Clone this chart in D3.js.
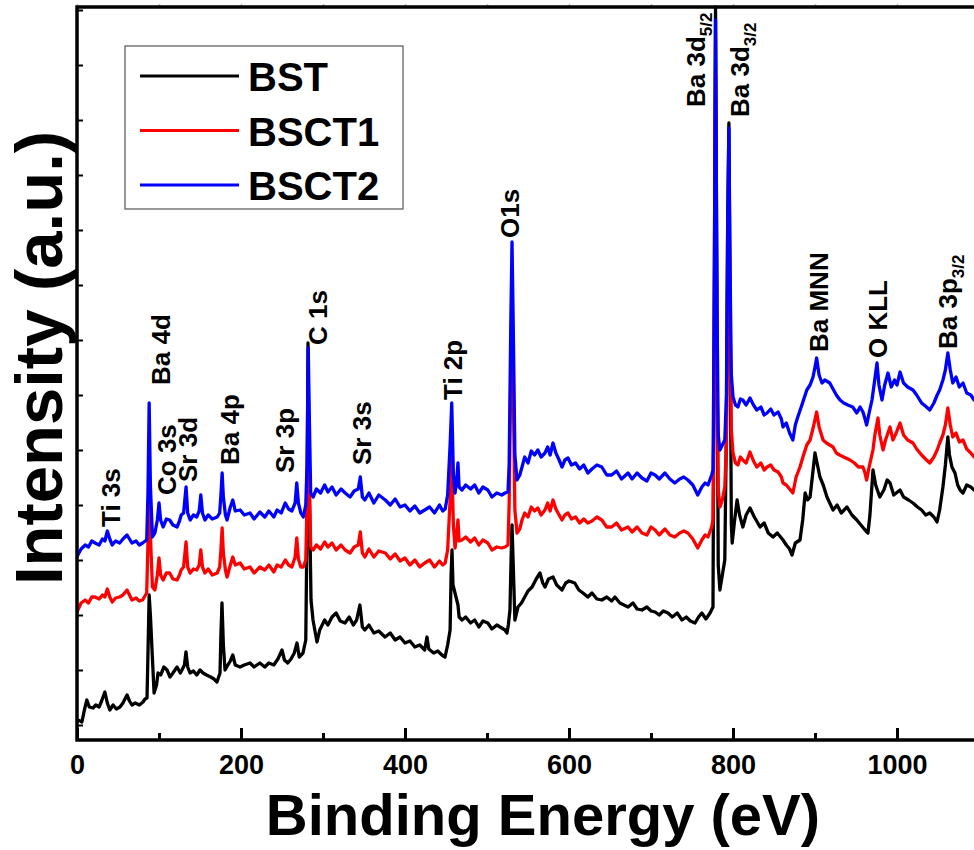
<!DOCTYPE html>
<html>
<head>
<meta charset="utf-8">
<script src="https://cdn.jsdelivr.net/npm/d3@7/dist/d3.min.js"></script>
<style>
  html, body { margin: 0; padding: 0; background: #fff; }
  svg text { font-family: "Liberation Sans", Arial, sans-serif; font-weight: bold; }
</style>
</head>
<body>
<div id="chart"></div>
<script>
// ── data: [binding energy (eV), intensity (a.u.)] ──
const bst = [
  [0,3],[1,5],[4,4],[6,3],[9,15],[12,25],[15,18],[19.5,17],[23,20],[27,18],[30,24],[34,33],[37,22],[40,15],[44,20],[48,16],[52.4,18],[56,22],[61,30],[64,24],[67,20],[71,22],[76,20],[80.5,23],[83,26],[85.4,27],[86.5,70],[88,130],[89.5,110],[91.5,75],[94,32],[97,40],[98.8,52],[102,50],[106,58],[109.8,55],[113.4,48],[117,52],[122,58],[126,52],[128,55],[131,60],[132.9,73],[135,58],[137.8,52],[142,54],[146,50],[150,55],[153.7,52],[158,50],[163,48],[167,46],[170.7,43],[174.4,52],[175.5,90],[176.8,122],[178.5,80],[180.5,55],[184,60],[187,64],[190,70],[193,60],[198.8,58],[204,60],[211,62],[216,58],[223,62],[229,58],[234,62],[240,60],[245,66],[250,75],[253,65],[257,62],[261,66],[265,72],[268.3,82],[271,68],[275.6,72],[279,85],[280.5,200],[281.7,382],[283,250],[285.4,125],[287.8,105],[290,95],[292.7,83],[296,95],[302,105],[306,100],[311,108],[316,112],[321,104],[326.8,102],[332,108],[337,100],[341,105],[345,120],[348,98],[351,95],[356,100],[362,92],[368,94],[375.6,88],[382,92],[388,85],[394,88],[400,82],[406,84],[412,78],[418,80],[424,75],[426.8,88],[429,76],[435,72],[440,74],[445,70],[448.8,68],[452,80],[455,95],[456.2,150],[457.3,175],[458.5,140],[461,132],[464.6,120],[466,108],[469.5,105],[474,108],[480,102],[485,105],[490,98],[495,104],[501,102],[506,96],[512,100],[518,97],[522,95],[524.4,92],[526,100],[528,115],[529.5,170],[530.5,200],[532,160],[534,105],[537.8,118],[542,122],[546,128],[550,134],[555,138],[560,146],[564.6,152],[568,142],[570.7,138],[575,146],[580.5,148],[585,140],[591.5,135],[596,142],[600,144],[607,142],[612,135],[617,132],[623,128],[628,132],[634,126],[640,125],[646,128],[652,124],[656,128],[662,122],[667,120],[672,118],[678,122],[683,116],[689,115],[695,118],[700,114],[705,113],[710,110],[715,114],[720.7,112],[726,108],[732,112],[737.8,105],[743,108],[748,104],[753.7,102],[758,108],[762,112],[767,106],[772,112],[775.6,118],[777,400],[778.7,718],[780.5,400],[782,160],[784,135],[787,150],[790,165],[792,300],[793.5,500],[795,602],[796.5,400],[798,200],[799,182],[802,205],[805,225],[808,210],[812,198],[816,210],[820.7,217],[826,208],[833,198],[838,202],[843,192],[848.8,188],[854,192],[861,185],[865,180],[869,176],[872,170],[876,182],[881.7,185],[885,205],[888,232],[891,225],[894,228],[897,250],[900,272],[903,260],[906,248],[910,240],[914.6,228],[918,222],[922,215],[927,220],[932,212],[939,218],[945,210],[951,205],[956,200],[960,196],[964.6,192],[967,210],[970.7,255],[974,240],[979,228],[984,235],[988,245],[991.5,242],[996,230],[1003.7,235],[1008,228],[1014,225],[1019.5,222],[1025,218],[1030,215],[1035,210],[1040,212],[1045,208],[1048.8,203],[1052,215],[1056,238],[1059,260],[1062,288],[1064,270],[1067,258],[1070.7,252],[1074,240],[1077,235],[1080.5,232],[1085,240],[1090,238],[1094,235],[1100,238]
];
const bsct1 = [
  [0,113],[1,115],[5,122],[10,125],[14,122],[18,128],[22,128],[27,126],[31,130],[34,128],[37,136],[40,128],[43,123],[47,127],[52,128],[56,130],[61,135],[64,130],[67,125],[72,127],[76,124],[80,125],[85,132],[86.5,180],[88,267],[89.5,190],[92,138],[95,135],[98,150],[100,167],[102,150],[105,145],[109,152],[113,152],[117,146],[122,145],[125,150],[127,155],[130,158],[133,183],[135,158],[138,152],[142,156],[146,155],[149,160],[151,175],[153,158],[156,152],[160,156],[165,150],[171,152],[174,158],[175.5,175],[177,197],[178.5,172],[181,155],[183,148],[187,160],[190,168],[193,160],[199,162],[204,156],[211,158],[216,152],[223,158],[229,155],[234,160],[240,153],[244,160],[249,158],[254,165],[258,160],[262,158],[266,168],[268,187],[270,166],[273,158],[276,158],[279,165],[280.5,220],[282,322],[283.5,240],[285,178],[288,175],[292,180],[297,176],[302,183],[306,178],[311,182],[316,175],[322,180],[327,175],[333,172],[338,178],[343,180],[345.5,193],[348,172],[351,168],[356,176],[362,168],[368,174],[376,172],[382,166],[388,171],[394,164],[400,167],[406,160],[412,165],[418,158],[424,162],[430,165],[436,158],[442,164],[446,160],[449,162],[452,175],[455,225],[457,267],[459,200],[461,177],[463,190],[464.6,205],[466,184],[469.5,185],[474,188],[480,183],[485,187],[490,180],[495,185],[501,182],[506,175],[512,178],[518,177],[522,178],[525.6,180],[527,220],[529,350],[530.5,428],[532,340],[534,215],[536.6,192],[540,196],[542.7,205],[546,212],[550,208],[554,218],[558,214],[562,217],[566,210],[570.7,215],[574,222],[577,214],[580.5,225],[584,216],[588,210],[591.5,205],[595,210],[598.8,212],[603,206],[608,208],[613,202],[618,206],[623,202],[628,204],[634,208],[640,205],[646,198],[652,198],[658,202],[664,195],[672,198],[677,193],[683,198],[689,192],[695,190],[700,198],[705,195],[710,190],[717,196],[723,190],[729,188],[735,192],[740,194],[745,192],[751,186],[757,177],[762,185],[766,190],[769.5,188],[774,198],[775.6,205],[777,350],[778.7,650],[780.5,360],[782,235],[784,218],[787,225],[790,238],[792,280],[793.5,450],[795,542],[796.5,400],[798,295],[800,272],[803,262],[806,260],[809,268],[812,265],[816,262],[820.7,273],[825,264],[829,258],[834,262],[838,255],[841.5,258],[846,260],[850,255],[855,253],[859,248],[861,242],[865,240],[869,236],[873,232],[877,248],[881.7,258],[886,270],[890,280],[894,285],[898,298],[902,313],[905,298],[909.8,285],[914,282],[922,278],[926,272],[930,270],[935,268],[942.7,265],[948,262],[953,258],[958.5,258],[961,252],[963,245],[966,258],[970.7,275],[973,290],[976.8,307],[979,290],[983,275],[986,285],[991.5,298],[995,285],[999,292],[1003.7,302],[1008,290],[1013,285],[1019.5,282],[1024,276],[1030,270],[1036,265],[1040,262],[1045,268],[1049,275],[1052,282],[1056,290],[1059,300],[1062,317],[1065,300],[1068,288],[1072,292],[1076,283],[1080.5,285],[1085,276],[1090,272],[1094,268],[1100,270]
];
const bsct2 = [
  [0,168],[1,170],[5,176],[10,180],[14,178],[18,184],[22,182],[27,180],[31,186],[34,184],[37,194],[40,186],[43,180],[47,184],[52,182],[56,186],[61,190],[64,186],[67,182],[72,184],[76,180],[80,182],[85,185],[86.5,230],[88,322],[89.5,240],[92,188],[95,192],[98,205],[100,222],[102,205],[105,198],[109,206],[113,205],[117,200],[122,198],[125,204],[127,210],[130,212],[133,238],[135,212],[138,205],[142,210],[146,208],[149,214],[151,230],[153,212],[156,205],[160,210],[165,206],[171,208],[174,212],[175.5,230],[177,252],[178.5,228],[181,210],[183,205],[187,218],[190,225],[193,214],[199,215],[204,210],[211,212],[216,206],[223,213],[229,208],[234,214],[240,208],[244,215],[249,212],[254,222],[258,216],[262,214],[266,222],[268,242],[270,222],[273,212],[276,208],[279,220],[280.5,260],[282,377],[283.5,300],[285,232],[288,228],[292,236],[297,232],[302,240],[306,233],[311,238],[316,230],[322,236],[327,232],[333,228],[338,234],[343,236],[345.5,248],[348,228],[351,225],[356,232],[362,222],[368,230],[376,225],[382,220],[388,226],[394,218],[400,220],[406,214],[412,219],[418,212],[424,215],[430,218],[436,212],[442,220],[446,214],[449,216],[452,230],[455,280],[457,322],[459,250],[461,232],[463,245],[464.6,262],[466,238],[469.5,235],[474,240],[480,236],[485,240],[490,232],[495,238],[501,235],[506,228],[512,232],[518,230],[522,232],[525.6,233],[527,260],[529,400],[530.5,483],[532,400],[534,270],[536.6,245],[540,250],[542.7,258],[546,268],[550,262],[554,274],[558,270],[562,275],[566,268],[570.7,272],[574,278],[577,270],[580.5,282],[584,272],[588,265],[591.5,258],[595,265],[598.8,267],[603,260],[608,262],[613,256],[618,260],[623,252],[628,256],[634,260],[640,258],[646,250],[652,250],[658,254],[664,246],[672,252],[677,246],[683,252],[689,247],[695,244],[700,252],[705,250],[710,246],[717,252],[723,246],[729,242],[735,246],[740,248],[745,245],[751,240],[757,230],[762,238],[766,242],[769.5,240],[774,250],[775.6,255],[777,400],[778.7,705],[780.5,420],[782,290],[784,275],[787,280],[790,285],[792,330],[793.5,500],[795,597],[796.5,450],[798,350],[800,328],[803,320],[806,318],[809,326],[812,325],[816,320],[820.7,327],[825,320],[829,315],[834,318],[838,310],[841.5,312],[846,316],[850,310],[855,313],[859,306],[861,298],[865,302],[869,292],[873,285],[876,300],[879,308],[884,320],[890,335],[894,340],[897.6,348],[900,358],[902,367],[905,350],[908.5,342],[912,345],[918,342],[922,336],[926,330],[930.5,325],[935,322],[940,320],[946,318],[951,312],[955,318],[958.5,313],[961,306],[963,300],[966,312],[969.5,325],[972,340],[975.6,362],[978,340],[981.7,325],[985,340],[989,352],[993,338],[997,345],[1000,340],[1003.7,353],[1008,342],[1013,338],[1019.5,335],[1024,330],[1030,322],[1036,318],[1040,315],[1045,322],[1049,330],[1052,335],[1056,345],[1059,355],[1062,372],[1065,355],[1068,342],[1072,348],[1076,338],[1080.5,342],[1085,332],[1090,330],[1094,325],[1100,328]
];

const seriesNames = ["BST", "BSCT1", "BSCT2"];
const seriesColors = ["#000000", "#ff0000", "#0000ff"];
const seriesData = [bst, bsct1, bsct2];

// peak labels: text, subscript, energy (eV) of baseline, intensity where the text starts
const peakText = ["Ti 3s", "Ba 4d", "Co 3s", "Sr 3d", "Ba 4p", "Sr 3p", "C 1s", "Sr 3s", "Ti 2p", "O1s", "Ba 3d", "Ba 3d", "Ba MNN", "O KLL", "Ba 3p"];
const peakSub = ["", "", "", "", "", "", "", "", "", "", "5/2", "3/2", "", "", "3/2"];
const peakEnergy = [52, 113, 121, 146, 198, 265, 305, 358, 470, 539, 766, 820, 916, 988, 1073];
const peakLevel = [198, 340, 230, 243, 260, 252, 380, 260, 325, 487, 618, 608, 373, 367, 376];

const xTicks = [0, 200, 400, 600, 800, 1000];
const xMinorTicks = [100, 300, 500, 700, 900, 1100];
const yTicks = d3.range(0, 718, 55);

/* ── layout ── */
const W = 974, H = 850;
const m = { left: 77, top: 7, right: 979, bottom: 740 };

const svg = d3.select("#chart").append("svg")
  .attr("width", W).attr("height", H)
  .attr("viewBox", `0 0 ${W} ${H}`);

const x = d3.scaleLinear().domain([0, 1100]).range([m.left, m.right]);
const y = d3.scaleLinear().domain([-15, 718]).range([m.bottom, m.top]);

svg.append("defs").append("clipPath").attr("id", "plot-clip")
  .append("rect")
  .attr("x", m.left).attr("y", m.top - 3)
  .attr("width", m.right - m.left).attr("height", m.bottom - m.top + 3);

/* spectra (BST first, BSCT2 on top) */
const line = d3.line().x(d => x(d[0])).y(d => y(d[1]));
svg.append("g").attr("clip-path", "url(#plot-clip)")
  .selectAll("path")
  .data(seriesData)
  .join("path")
  .attr("d", line)
  .attr("fill", "none")
  .attr("stroke", (d, i) => seriesColors[i])
  .attr("stroke-width", 3.3)
  .attr("stroke-linejoin", "round");

/* axes: ticks point inward */
svg.append("g")
  .attr("transform", `translate(0,${m.bottom})`)
  .call(d3.axisBottom(x).tickValues(xTicks).tickSize(-12).tickFormat(d3.format("d")).tickPadding(15))
  .call(g => g.select(".domain").remove())
  .call(g => g.selectAll("line").attr("stroke", "#000").attr("stroke-width", 3))
  .call(g => g.selectAll("text").attr("font-size", 27).attr("fill", "#000").attr("dy", "0.72em"));

svg.append("g")
  .attr("transform", `translate(0,${m.bottom})`)
  .call(d3.axisBottom(x).tickValues(xMinorTicks).tickSize(-7).tickFormat(""))
  .call(g => g.select(".domain").remove())
  .call(g => g.selectAll("line").attr("stroke", "#000").attr("stroke-width", 3));

svg.append("g")
  .attr("transform", `translate(${m.left},0)`)
  .call(d3.axisLeft(y).tickValues(yTicks).tickSize(-6).tickFormat(""))
  .call(g => g.select(".domain").remove())
  .call(g => g.selectAll("line").attr("stroke", "#000").attr("stroke-width", 2));

// faint ticks on the top edge
svg.append("g")
  .attr("transform", `translate(0,${m.top})`)
  .call(d3.axisTop(x).tickValues(xTicks.concat(xMinorTicks)).tickSize(3).tickFormat(""))
  .call(g => g.select(".domain").remove())
  .call(g => g.selectAll("line").attr("stroke", "#bbb").attr("stroke-width", 1.5));

/* frame */
svg.append("rect")
  .attr("x", m.left).attr("y", m.top)
  .attr("width", m.right - m.left).attr("height", m.bottom - m.top)
  .attr("fill", "none").attr("stroke", "#000").attr("stroke-width", 3.5);

/* peak labels, rotated */
svg.append("g").selectAll("text")
  .data(peakText)
  .join("text")
  .attr("transform", (d, i) => `translate(${x(peakEnergy[i])},${y(peakLevel[i])}) rotate(-90)`)
  .attr("font-size", 26)
  .attr("fill", "#000")
  .each(function (d, i) {
    const t = d3.select(this);
    t.append("tspan").text(d);
    if (peakSub[i]) t.append("tspan").attr("font-size", 17).attr("dy", 7).text(peakSub[i]);
  });

/* axis titles */
svg.append("text")
  .attr("x", 543).attr("y", 835)
  .attr("text-anchor", "middle")
  .attr("font-size", 58)
  .text("Binding Energy (eV)");

svg.append("text")
  .attr("transform", "translate(62,358) rotate(-90)")
  .attr("text-anchor", "middle")
  .attr("font-size", 67)
  .text("Intensity (a.u.)");

/* legend */
const legend = svg.append("g");
legend.append("rect")
  .attr("x", 125).attr("y", 46).attr("width", 278).attr("height", 163)
  .attr("fill", "#fff").attr("stroke", "#555").attr("stroke-width", 1.2);
const li = legend.selectAll("g.item").data(seriesNames).join("g")
  .attr("class", "item")
  .attr("transform", (d, i) => `translate(140,${76 + i * 54.5})`);
li.append("line")
  .attr("x1", 0).attr("x2", 99).attr("y1", 0).attr("y2", 0)
  .attr("stroke", (d, i) => seriesColors[i]).attr("stroke-width", 3);
li.append("text")
  .attr("x", 108).attr("y", 15)
  .attr("font-size", 40)
  .text(d => d);
</script>
</body>
</html>
